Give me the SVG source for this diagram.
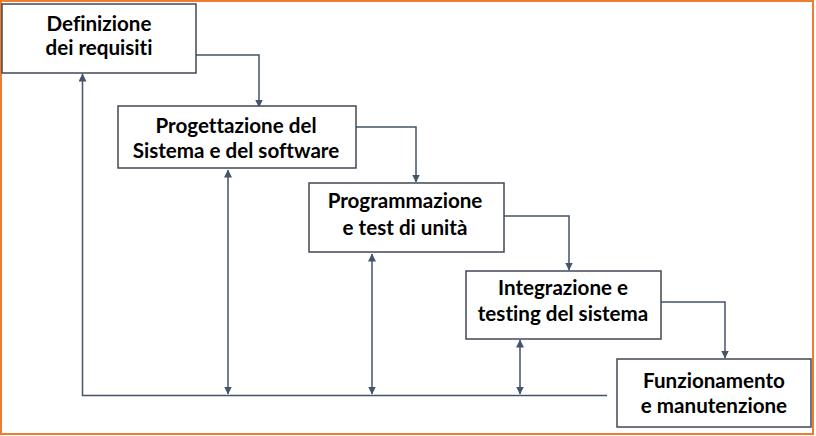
<svg xmlns="http://www.w3.org/2000/svg" width="816" height="436" viewBox="0 0 816 436">
<defs>
<marker id="ah" viewBox="0 0 8 8" refX="7.5" refY="4" markerWidth="8" markerHeight="8" markerUnits="userSpaceOnUse" orient="auto-start-reverse">
<path d="M0,0 L8,4 L0,8 Z" fill="#44546a"/>
</marker>
</defs>
<style>
.box{fill:#ffffff;stroke:#404756;stroke-width:1.5}
.lbl{font-family:Lato,"Liberation Sans",sans-serif;font-weight:bold;font-size:20.6px;fill:#000000;text-anchor:middle;font-variant-ligatures:none}
.ln{fill:none;stroke:#44546a;stroke-width:1.5}
</style>
<rect x="0" y="0" width="816" height="436" fill="#ffffff"/>
<rect x="1" y="1" width="812" height="433" fill="none" stroke="#ed7d31" stroke-width="2"/>
<g id="connectors">
<path class="ln" d="M196,55 H259 V107" marker-end="url(#ah)"/>
<path class="ln" d="M356,127 H416 V182" marker-end="url(#ah)"/>
<path class="ln" d="M504,216 H569 V270" marker-end="url(#ah)"/>
<path class="ln" d="M661,302 H725 V358" marker-end="url(#ah)"/>
<path class="ln" d="M607,395.5 H82.5 V74" marker-end="url(#ah)"/>
<path class="ln" d="M228,170 V394" marker-start="url(#ah)" marker-end="url(#ah)"/>
<path class="ln" d="M372,254 V394" marker-start="url(#ah)" marker-end="url(#ah)"/>
<path class="ln" d="M520,340 V394" marker-start="url(#ah)" marker-end="url(#ah)"/>
</g>
<g id="n1">
<rect class="box" x="2" y="4" width="194" height="69"/>
<text class="lbl" x="99" y="31">Definizione</text>
<text class="lbl" x="99" y="55">dei requisiti</text>
</g>
<g id="n2">
<rect class="box" x="118" y="106" width="238" height="62"/>
<text class="lbl" x="236" y="133">Progettazione del</text>
<text class="lbl" x="236" y="158">Sistema e del software</text>
</g>
<g id="n3">
<rect class="box" x="309" y="183" width="195" height="69"/>
<text class="lbl" x="405" y="208">Programmazione</text>
<text class="lbl" x="405" y="235">e test di unità</text>
</g>
<g id="n4">
<rect class="box" x="466" y="271" width="195" height="68"/>
<text class="lbl" x="563" y="295">Integrazione e</text>
<text class="lbl" x="563" y="321">testing del sistema</text>
</g>
<g id="n5">
<rect class="box" x="617" y="359" width="194" height="68"/>
<text class="lbl" x="714" y="388">Funzionamento</text>
<text class="lbl" x="714" y="413">e manutenzione</text>
</g>
</svg>
